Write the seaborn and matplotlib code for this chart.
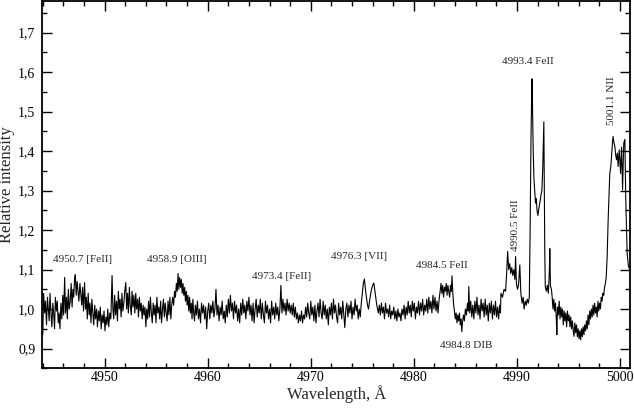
import pandas as pd
import numpy as np
import seaborn as sns
import matplotlib.pyplot as plt
from matplotlib.ticker import MultipleLocator, FuncFormatter

# spectrum, split in pieces (wavelength A, relative intensity)
seg_fe4950 = [(4944.00, 0.935), (4944.08, 1.040), (4944.18, 0.990), (4944.26, 1.020), (4944.36, 0.960),
              (4944.45, 1.030), (4944.52, 1.005), (4944.62, 0.970), (4944.70, 1.040), (4944.80, 0.985),
              (4944.88, 0.955), (4944.97, 1.015), (4945.05, 0.990), (4945.14, 0.950), (4945.22, 1.030),
              (4945.32, 0.995), (4945.40, 1.020), (4945.50, 0.965), (4945.58, 0.990), (4945.66, 0.950),
              (4945.76, 1.015), (4945.85, 0.975), (4945.94, 1.035), (4946.02, 0.985), (4946.12, 1.080),
              (4946.20, 0.990), (4946.30, 1.030), (4946.38, 0.975), (4946.48, 1.050), (4946.56, 1.000),
              (4946.66, 1.020), (4946.75, 1.065), (4946.84, 1.005), (4946.92, 1.050), (4947.00, 1.030),
              (4947.08, 1.075), (4947.15, 1.087), (4947.24, 1.035), (4947.33, 1.070), (4947.42, 1.045),
              (4947.50, 1.020), (4947.60, 1.065), (4947.68, 1.040), (4947.78, 1.010), (4947.86, 1.055),
              (4947.95, 0.995), (4948.05, 1.067), (4948.14, 1.000), (4948.22, 1.030), (4948.32, 0.975),
              (4948.40, 1.040), (4948.50, 0.985), (4948.58, 1.015), (4948.68, 0.965), (4948.76, 1.025),
              (4948.86, 0.990), (4948.94, 0.960), (4949.04, 1.010), (4949.12, 0.975), (4949.22, 1.000),
              (4949.30, 0.955), (4949.40, 0.995), (4949.48, 0.970), (4949.58, 1.005), (4949.66, 0.950),
              (4949.76, 0.985), (4949.85, 0.965), (4949.94, 0.995), (4950.03, 0.945), (4950.12, 0.980),
              (4950.22, 0.960), (4950.30, 1.000), (4950.40, 0.955), (4950.50, 0.990), (4950.60, 0.975),
              (4950.72, 1.085), (4950.80, 1.000), (4950.88, 0.975)]

seg_oiii = [(4950.97, 1.035), (4951.06, 0.985), (4951.15, 1.020), (4951.24, 0.970), (4951.33, 1.045),
            (4951.42, 1.000), (4951.50, 1.025), (4951.60, 0.980), (4951.68, 1.040), (4951.77, 0.995),
            (4951.86, 1.015), (4951.95, 1.045), (4952.05, 1.067), (4952.13, 1.000), (4952.22, 1.040),
            (4952.30, 0.990), (4952.40, 1.055), (4952.48, 1.010), (4952.58, 0.985), (4952.66, 1.045),
            (4952.75, 1.005), (4952.84, 1.035), (4952.93, 0.990), (4953.02, 1.040), (4953.10, 1.000),
            (4953.20, 1.025), (4953.28, 0.980), (4953.37, 1.030), (4953.46, 0.995), (4953.55, 1.015),
            (4953.64, 0.975), (4953.73, 1.010), (4953.82, 0.985), (4953.91, 1.005), (4954.00, 0.955),
            (4954.08, 1.000), (4954.17, 0.975), (4954.26, 1.020), (4954.35, 0.980), (4954.44, 1.030),
            (4954.53, 0.990), (4954.62, 0.965), (4954.71, 1.015), (4954.80, 0.985), (4954.89, 1.010),
            (4954.98, 0.965), (4955.07, 1.030), (4955.16, 0.990), (4955.25, 1.005), (4955.34, 0.975),
            (4955.43, 1.020), (4955.52, 0.965), (4955.61, 1.000), (4955.70, 1.025), (4955.79, 0.980),
            (4955.88, 1.015), (4955.97, 0.990), (4956.06, 0.970), (4956.15, 1.020), (4956.24, 0.985),
            (4956.33, 1.030), (4956.42, 0.975), (4956.51, 1.010), (4956.60, 1.030), (4956.69, 1.010),
            (4956.78, 1.045), (4956.87, 1.030), (4956.96, 1.065), (4957.04, 1.045), (4957.12, 1.090),
            (4957.20, 1.050), (4957.28, 1.080), (4957.36, 1.055), (4957.44, 1.075), (4957.52, 1.040),
            (4957.60, 1.065), (4957.68, 1.035), (4957.76, 1.055), (4957.84, 1.020), (4957.92, 1.045),
            (4958.00, 1.010), (4958.08, 1.035), (4958.16, 0.995), (4958.24, 1.030), (4958.32, 0.990),
            (4958.40, 1.015), (4958.48, 0.975), (4958.56, 1.025), (4958.64, 0.990), (4958.72, 0.970)]

seg_flat = [(4958.80, 1.010), (4958.90, 0.985), (4959.00, 1.020), (4959.10, 0.975), (4959.20, 1.000),
            (4959.30, 0.965), (4959.40, 1.015), (4959.50, 0.990), (4959.60, 1.010), (4959.70, 0.975),
            (4959.80, 1.005), (4959.90, 0.950), (4960.00, 0.995), (4960.10, 1.015), (4960.20, 0.975),
            (4960.30, 1.010), (4960.40, 0.990), (4960.50, 1.020), (4960.60, 0.980), (4960.70, 1.000),
            (4960.80, 1.050), (4960.90, 0.985), (4961.00, 1.010), (4961.10, 0.970), (4961.20, 1.005),
            (4961.30, 0.985), (4961.40, 1.020), (4961.50, 0.975), (4961.60, 0.995), (4961.70, 0.965),
            (4961.80, 1.010), (4961.90, 0.980), (4962.00, 1.025), (4962.10, 0.990), (4962.20, 1.035),
            (4962.30, 0.995), (4962.40, 1.015), (4962.50, 0.975), (4962.60, 1.020), (4962.70, 0.990),
            (4962.80, 1.010), (4962.90, 0.970), (4963.00, 1.000), (4963.10, 0.965), (4963.20, 1.015),
            (4963.30, 0.985), (4963.40, 1.025), (4963.50, 0.990), (4963.60, 1.010), (4963.70, 0.975),
            (4963.80, 1.020), (4963.90, 0.995), (4964.00, 1.030), (4964.10, 0.985), (4964.20, 1.010),
            (4964.30, 0.970), (4964.40, 1.015), (4964.50, 0.965), (4964.60, 1.000), (4964.70, 1.025),
            (4964.80, 0.980), (4964.90, 1.010), (4965.00, 0.990), (4965.10, 1.025), (4965.20, 0.975),
            (4965.30, 1.015), (4965.40, 0.985), (4965.50, 0.965), (4965.60, 1.020), (4965.70, 0.990),
            (4965.80, 1.010), (4965.90, 0.975), (4966.00, 1.000), (4966.10, 0.965), (4966.20, 1.020),
            (4966.30, 0.985), (4966.40, 1.005), (4966.50, 0.975), (4966.60, 1.015), (4966.70, 0.985),
            (4966.80, 1.005), (4966.90, 0.970), (4967.00, 1.000), (4967.10, 1.060), (4967.20, 0.990),
            (4967.30, 1.025), (4967.40, 0.995), (4967.50, 1.015), (4967.60, 0.985), (4967.70, 1.025),
            (4967.80, 0.995), (4967.90, 1.015), (4968.00, 0.990), (4968.10, 1.010), (4968.20, 0.985),
            (4968.30, 1.015), (4968.40, 0.980), (4968.50, 1.005), (4968.60, 0.975), (4968.70, 0.990),
            (4968.80, 0.965), (4968.90, 0.985), (4969.00, 0.970), (4969.10, 0.995), (4969.20, 0.965),
            (4969.30, 0.985), (4969.40, 0.975), (4969.50, 1.005), (4969.60, 0.980), (4969.70, 1.015),
            (4969.80, 0.990), (4969.90, 0.975), (4970.00, 1.020), (4970.10, 0.985), (4970.20, 1.005),
            (4970.30, 0.970), (4970.40, 1.010), (4970.50, 0.965), (4970.60, 0.995), (4970.70, 1.015),
            (4970.80, 0.980), (4970.90, 1.025), (4971.00, 0.990), (4971.10, 0.975), (4971.20, 1.020),
            (4971.30, 0.985), (4971.40, 1.010), (4971.50, 0.975), (4971.60, 1.000), (4971.70, 0.960),
            (4971.80, 1.005), (4971.90, 0.985), (4972.00, 1.015), (4972.10, 0.975), (4972.20, 1.025),
            (4972.30, 0.990), (4972.40, 1.010), (4972.50, 0.980), (4972.60, 0.965), (4972.70, 1.015),
            (4972.80, 0.985), (4972.90, 1.005), (4973.00, 0.975), (4973.10, 1.020), (4973.20, 0.985),
            (4973.30, 0.953), (4973.40, 1.000), (4973.50, 1.015), (4973.60, 0.980), (4973.70, 1.010),
            (4973.80, 0.990), (4973.90, 1.020), (4974.00, 0.975), (4974.10, 1.005), (4974.20, 0.985),
            (4974.30, 1.025), (4974.40, 0.995), (4974.50, 1.010), (4974.60, 0.975), (4974.70, 1.000),
            (4974.80, 0.980), (4974.90, 1.015)]

seg_vii = [(4975.00, 1.040), (4975.10, 1.065), (4975.20, 1.076), (4975.30, 1.050), (4975.40, 1.030),
           (4975.50, 1.010), (4975.60, 1.000), (4975.70, 1.020), (4975.85, 1.045), (4976.00, 1.060),
           (4976.12, 1.066), (4976.25, 1.040), (4976.40, 1.010), (4976.55, 0.990)]

seg_mid = [(4976.65, 1.010), (4976.75, 0.985), (4976.85, 1.015), (4976.95, 0.990), (4977.05, 1.005),
           (4977.15, 0.975), (4977.25, 1.015), (4977.35, 0.990), (4977.45, 1.000), (4977.55, 0.980),
           (4977.65, 1.010), (4977.75, 0.975), (4977.85, 0.995), (4977.95, 0.985), (4978.05, 1.005),
           (4978.15, 0.975), (4978.25, 0.995), (4978.35, 0.970), (4978.45, 1.000), (4978.55, 0.980),
           (4978.65, 0.990), (4978.75, 0.970), (4978.85, 1.000), (4978.95, 0.985), (4979.05, 1.010),
           (4979.15, 0.975), (4979.25, 1.005), (4979.35, 0.985), (4979.45, 1.020), (4979.55, 0.990),
           (4979.65, 1.010), (4979.75, 0.980), (4979.85, 1.020), (4979.95, 0.995), (4980.05, 1.015),
           (4980.15, 0.975), (4980.25, 1.005), (4980.35, 0.990), (4980.45, 1.020), (4980.55, 0.985),
           (4980.65, 1.015), (4980.75, 0.995), (4980.85, 1.025), (4980.95, 0.985), (4981.05, 1.010),
           (4981.15, 0.995), (4981.25, 1.025), (4981.35, 0.990), (4981.45, 1.030), (4981.55, 1.000),
           (4981.65, 1.020), (4981.75, 0.990), (4981.85, 1.035), (4981.95, 1.000), (4982.05, 1.030),
           (4982.15, 0.995), (4982.25, 1.020), (4982.35, 0.990), (4982.45, 1.025)]

seg_dib = [(4982.55, 1.045), (4982.63, 1.065), (4982.72, 1.040), (4982.80, 1.060), (4982.88, 1.030),
           (4982.97, 1.055), (4983.05, 1.045), (4983.14, 1.065), (4983.22, 1.035), (4983.30, 1.060),
           (4983.38, 1.045), (4983.47, 1.030), (4983.55, 1.060), (4983.63, 1.045), (4983.70, 1.084),
           (4983.78, 1.040), (4983.86, 1.010), (4983.94, 0.995), (4984.02, 0.975), (4984.10, 0.990),
           (4984.18, 0.965), (4984.26, 0.985), (4984.34, 0.970), (4984.42, 0.990), (4984.50, 0.960),
           (4984.58, 0.975), (4984.65, 0.943), (4984.73, 0.970), (4984.82, 0.985), (4984.90, 0.970),
           (4985.00, 1.000), (4985.10, 0.985), (4985.20, 1.015), (4985.28, 0.995), (4985.33, 1.057),
           (4985.42, 0.990), (4985.52, 1.020), (4985.62, 0.980), (4985.72, 1.010), (4985.82, 0.975),
           (4985.92, 1.020), (4986.02, 0.990), (4986.12, 1.030), (4986.22, 0.985), (4986.32, 1.010),
           (4986.42, 0.975), (4986.52, 1.025), (4986.62, 0.995), (4986.72, 1.015), (4986.82, 0.980),
           (4986.92, 1.025), (4987.02, 0.985), (4987.12, 1.010), (4987.22, 0.970), (4987.32, 1.015),
           (4987.42, 0.990), (4987.52, 1.020), (4987.62, 0.975), (4987.72, 1.010), (4987.82, 0.985),
           (4987.92, 1.020), (4988.02, 0.980), (4988.12, 1.005), (4988.22, 0.975), (4988.32, 1.010),
           (4988.40, 0.990)]

seg_fe4990 = [(4988.45, 1.040), (4988.60, 1.030), (4988.75, 1.050), (4988.90, 1.045), (4989.00, 1.090),
              (4989.10, 1.146), (4989.20, 1.100), (4989.30, 1.115), (4989.40, 1.090), (4989.50, 1.105),
              (4989.60, 1.085), (4989.70, 1.100), (4989.80, 1.075), (4989.87, 1.133), (4989.95, 1.065),
              (4990.05, 1.050), (4990.15, 1.060), (4990.28, 1.112), (4990.38, 1.040), (4990.50, 1.015),
              (4990.60, 1.030), (4990.70, 1.000), (4990.80, 1.020), (4990.90, 1.010), (4991.00, 1.025),
              (4991.10, 1.015)]

seg_fe4993 = [(4991.20, 1.030), (4991.28, 1.200), (4991.36, 1.420), (4991.44, 1.560), (4991.47, 1.583),
              (4991.52, 1.500), (4991.58, 1.400), (4991.65, 1.330), (4991.72, 1.300), (4991.80, 1.268),
              (4991.88, 1.280), (4991.95, 1.250), (4992.03, 1.237), (4992.10, 1.250), (4992.18, 1.262),
              (4992.26, 1.275), (4992.34, 1.290), (4992.42, 1.300), (4992.50, 1.353), (4992.56, 1.420),
              (4992.61, 1.474), (4992.66, 1.300), (4992.70, 1.150), (4992.75, 1.057), (4992.85, 1.045),
              (4992.95, 1.060), (4993.05, 1.040), (4993.15, 1.100), (4993.19, 1.153), (4993.25, 1.060),
              (4993.35, 1.049)]

seg_trough = [(4993.42, 1.030), (4993.50, 1.000), (4993.58, 1.025), (4993.66, 0.995), (4993.74, 1.015),
              (4993.82, 0.975), (4993.87, 0.935), (4993.94, 1.005), (4994.02, 0.985), (4994.10, 1.020),
              (4994.18, 0.975), (4994.26, 1.005), (4994.34, 0.980), (4994.42, 1.000), (4994.50, 0.960),
              (4994.58, 0.995), (4994.66, 0.970), (4994.74, 0.990), (4994.82, 0.955), (4994.90, 0.995),
              (4994.98, 0.970), (4995.06, 0.985), (4995.14, 0.955), (4995.22, 0.980), (4995.30, 0.950),
              (4995.38, 0.970), (4995.46, 0.945), (4995.54, 0.931), (4995.62, 0.965), (4995.70, 0.940),
              (4995.78, 0.960), (4995.86, 0.930), (4995.94, 0.950), (4996.02, 0.925), (4996.10, 0.945),
              (4996.18, 0.922), (4996.26, 0.950), (4996.34, 0.930), (4996.42, 0.955), (4996.50, 0.935),
              (4996.58, 0.960), (4996.66, 0.945), (4996.74, 0.970), (4996.82, 0.950), (4996.90, 0.985),
              (4996.98, 0.960), (4997.06, 0.995), (4997.14, 0.975), (4997.22, 1.000), (4997.30, 0.980),
              (4997.38, 1.010), (4997.46, 0.985), (4997.54, 1.015), (4997.62, 0.990), (4997.70, 1.005),
              (4997.78, 0.980), (4997.86, 1.020), (4997.94, 0.995), (4998.02, 1.015), (4998.10, 1.000),
              (4998.18, 1.030), (4998.26, 1.020), (4998.34, 1.040), (4998.42, 1.035), (4998.50, 1.055),
              (4998.58, 1.065), (4998.66, 1.080)]

seg_nii = [(4998.75, 1.130), (4998.85, 1.226), (4998.95, 1.300), (4999.01, 1.344), (4999.11, 1.361),
           (4999.20, 1.395), (4999.28, 1.425), (4999.33, 1.437), (4999.42, 1.420), (4999.50, 1.412),
           (4999.58, 1.390), (4999.66, 1.378), (4999.74, 1.395), (4999.82, 1.361), (4999.92, 1.403),
           (5000.00, 1.370), (5000.05, 1.344), (5000.15, 1.410), (5000.25, 1.302), (5000.32, 1.380),
           (5000.37, 1.421), (5000.47, 1.429), (5000.56, 1.277), (5000.69, 1.142), (5000.82, 1.108),
           (5000.95, 1.100)]

# line labels: text, wavelength, intensity, rotation
line_names = ["4950.7 [FeII]", "4958.9 [OIII]", "4973.4 [FeII]", "4976.3 [VII]", "4984.5 FeII",
              "4984.8 DIB", "4990.5 FeII", "4993.4 FeII", "5001.1 NII"]
line_wl = [4947.85, 4956.98, 4967.17, 4974.73, 4982.67, 4985.06, 4989.87, 4991.04, 4999.14]
line_y = [1.125, 1.125, 1.083, 1.133, 1.110, 0.908, 1.213, 1.628, 1.528]
line_rot = [0, 0, 0, 0, 0, 0, 90, 0, 90]

segments = [seg_fe4950, seg_oiii, seg_flat, seg_vii, seg_mid, seg_dib, seg_fe4990, seg_fe4993, seg_trough, seg_nii]
df = pd.DataFrame([p for s in segments for p in s], columns=["wl", "flux"])

sns.set_style("ticks")
plt.rcParams['font.family'] = ['Liberation Serif', 'DejaVu Serif']

fig = plt.figure(figsize=(6.34, 4.08), dpi=100)
ax = fig.add_axes([0.0667, 0.0973, 0.9270, 0.9002])
sns.lineplot(data=df, x="wl", y="flux", color="black", linewidth=0.8, estimator=None, sort=False, ax=ax)

for t, xw, yv, r in zip(line_names, line_wl, line_y, line_rot):
    ax.text(xw, yv, t, fontsize=8, ha="center", va="center", rotation=r)

ax.set_xlim(4943.95, 5000.97)
ax.set_ylim(0.85, 1.78)
ax.xaxis.set_major_locator(MultipleLocator(10))
ax.xaxis.set_minor_locator(MultipleLocator(2))
ax.yaxis.set_major_locator(MultipleLocator(0.1))
ax.yaxis.set_minor_locator(MultipleLocator(0.05))
ax.yaxis.set_major_formatter(FuncFormatter(lambda v, p: f"{v:.1f}".replace(".", ",")))
ax.tick_params(which="both", direction="in", top=True, right=True, width=1, colors="black")
ax.tick_params(which="major", length=7, labelsize=10, pad=5)
ax.tick_params(axis="x", which="major", pad=2)
ax.tick_params(which="minor", length=3.5)
for sp in ax.spines.values():
    sp.set_linewidth(1.3)
    sp.set_color("black")

ax.set_xlabel("Wavelength, Å", fontsize=12)
ax.set_ylabel("Relative intensity", fontsize=12)
ax.xaxis.set_label_coords(0.5, -0.046)
ax.yaxis.set_label_coords(-0.046, 0.5)

fig.savefig("out.png", dpi=100)
